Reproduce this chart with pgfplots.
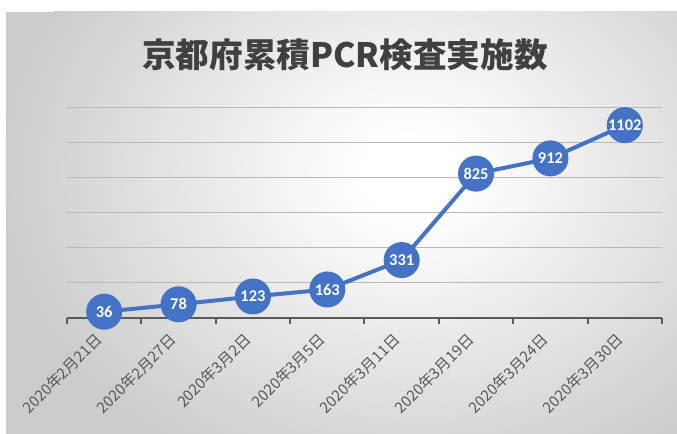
\documentclass[border=0pt]{standalone}
\usepackage{pgfplots}
\pgfplotsset{compat=1.18}
\usepackage{fontspec}
\setmainfont{Carlito}
\newfontfamily\jp{Noto Sans CJK JP}
\definecolor{blu}{HTML}{4472C4}
\definecolor{txt}{HTML}{595959}
\definecolor{ttl}{HTML}{404040}
\pgfdeclareradialshading{bg}{\pgfpoint{0bp}{0bp}}{color(0bp)=(white); color(3bp)=(white); color(13bp)=(gray!18); color(25bp)=(gray!40); color(50bp)=(gray!40)}
\begin{document}
\begin{tikzpicture}
\useasboundingbox (0,0) rectangle (338.5pt,217pt);
\begin{scope}
\fill[gray!40] (3pt,0pt) rectangle (338.5pt,211pt);
\clip (3pt,0pt) rectangle (338.5pt,211pt);
\shade[shading=bg] (205pt,130pt) ellipse [x radius=205pt, y radius=165pt];
\end{scope}
\node[font=\jp\bfseries\fontsize{16.8}{19}\selectfont, text=ttl] at (172.5pt,189.5pt) {京都府累積PCR検査実施数};
\begin{axis}[
  at={(33.5pt,58pt)}, anchor=south west, scale only axis,
  width=297.5pt, height=105pt,
  xmin=0, xmax=8, ymin=0, ymax=1200,
  axis x line=bottom, axis y line=left,
  axis line style={-, draw=txt, line width=1pt},
  y axis line style={draw=none},
  ytick={200,400,...,1200}, yticklabels={}, ytick style={draw=none},
  ymajorgrids, major grid style={draw=gray!55, line width=0.5pt},
  xtick={0.5,1.5,...,7.5},
  xticklabels={2020年2月21日,2020年2月27日,2020年3月2日,2020年3月5日,2020年3月11日,2020年3月19日,2020年3月24日,2020年3月30日},
  major x tick style={draw=none},
  minor xtick={0,1,...,8},
  minor x tick style={draw=txt, line width=1pt},
  minor tick length=3pt, xtick align=outside,
  xticklabel style={yshift=-2.5pt, rotate=45, anchor=east, font=\jp\fontsize{7.6}{8}\selectfont, text=txt},
  clip=false,
]
\addplot[blu, line width=2pt, mark=*, mark size=8pt, mark options={fill=blu, draw=none},
  nodes near coords, point meta=explicit symbolic,
  every node near coord/.append style={anchor=center, text=white, font=\bfseries\fontsize{8.2}{9}\selectfont}]
  table[meta=l] {
x y l
0.5 36 36
1.5 78 78
2.5 123 123
3.5 163 163
4.5 331 331
5.5 825 825
6.5 912 912
7.5 1102 1102
};
\end{axis}
\end{tikzpicture}
\end{document}
